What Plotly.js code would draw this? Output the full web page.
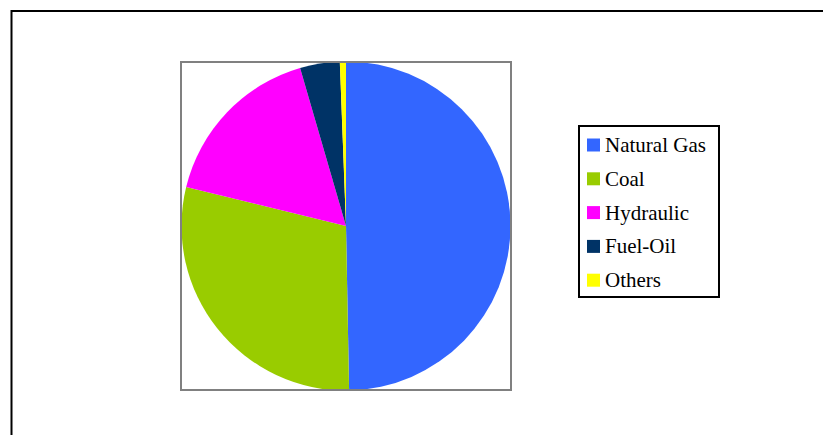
<!DOCTYPE html>
<html>
<head>
<meta charset="utf-8">
<script src="https://cdn.plot.ly/plotly-3.0.1.min.js"></script>
<style>html,body{margin:0;padding:0;background:#fff;}#chart{width:823px;height:435px;}</style>
</head>
<body>
<div id="chart"></div>
<script>
var labels = ["Natural Gas", "Coal", "Hydraulic", "Fuel-Oil", "Others"];
var values = [49.7, 29.1, 16.7, 3.9, 0.6];
var colors = ["#3366FF", "#99CC00", "#FF00FF", "#003366", "#FFFF00"];

var W = 823, H = 435;
function px(x) { return x / W; }
function py(y) { return 1 - y / H; }

var trace = {
  type: "pie",
  labels: labels,
  values: values,
  sort: false,
  direction: "clockwise",
  rotation: 0,
  textinfo: "none",
  hoverinfo: "label+percent",
  marker: { colors: colors, line: { width: 0 } },
  domain: { x: [px(180.5), px(511.5)], y: [py(390.5), py(61.5)] },
  showlegend: false
};

var shapes = [
  // outer frame
  { type: "rect", xref: "paper", yref: "paper", x0: px(11.5), x1: px(W + 20), y0: py(H + 20), y1: py(11), line: { color: "#000", width: 2 } },
  // pie plot-area frame
  { type: "rect", xref: "paper", yref: "paper", x0: px(181), x1: px(511), y0: py(390), y1: py(62), line: { color: "#808080", width: 2 } },
  // legend box
  { type: "rect", xref: "paper", yref: "paper", x0: px(579), x1: px(719), y0: py(297), y1: py(126), line: { color: "#000", width: 2 }, fillcolor: "rgba(0,0,0,0)" }
];
var annotations = [];
var legTop = 145, legStep = 33.8;
for (var i = 0; i < labels.length; i++) {
  var cy = legTop + i * legStep;
  shapes.push({ type: "rect", xref: "paper", yref: "paper", x0: px(587), x1: px(600), y0: py(cy + 6.5), y1: py(cy - 6.5), line: { width: 0 }, fillcolor: colors[i] });
  annotations.push({ xref: "paper", yref: "paper", x: px(603), y: py(cy), xanchor: "left", yanchor: "middle", text: labels[i], showarrow: false, font: { family: "Liberation Serif, Times New Roman, serif", size: 21, color: "#000" } });
}

var layout = {
  width: W, height: H,
  margin: { l: 0, r: 0, t: 0, b: 0 },
  paper_bgcolor: "#fff",
  plot_bgcolor: "#fff",
  showlegend: false,
  shapes: shapes,
  annotations: annotations
};
Plotly.newPlot("chart", [trace], layout, { displayModeBar: false, staticPlot: true });
</script>
</body>
</html>
